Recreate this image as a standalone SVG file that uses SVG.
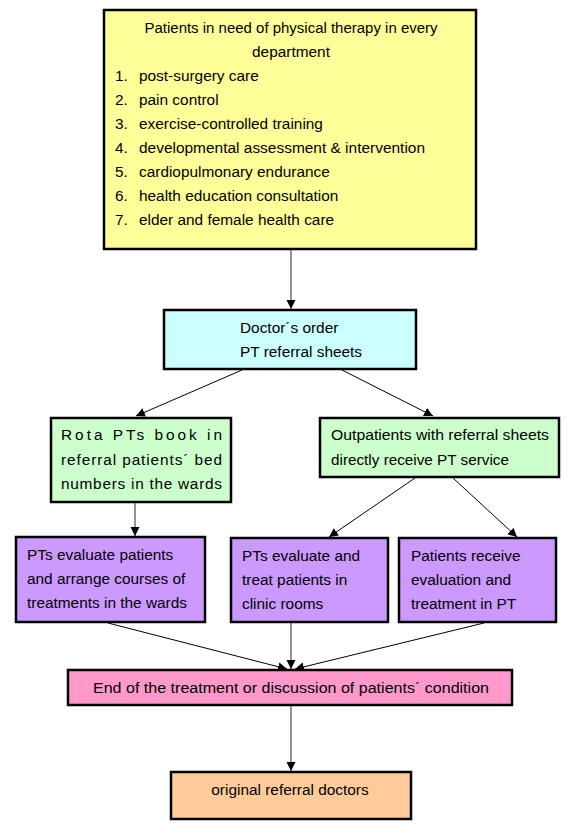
<svg xmlns="http://www.w3.org/2000/svg" width="573" height="834" viewBox="0 0 573 834">
<style>
.box{stroke:#000;stroke-width:2.5}
text{font-family:"Liberation Sans",Arial,sans-serif;font-size:15.4px;fill:#000}
.c{text-anchor:middle}
.ln{stroke:#000;stroke-width:1;fill:none;marker-end:url(#ah)}
.lg{stroke:#707070;stroke-width:1.5;fill:none;marker-end:url(#ah)}
</style>
<defs>
<marker id="ah" markerUnits="userSpaceOnUse" markerWidth="10" markerHeight="10" refX="9" refY="4.5" orient="auto">
<path d="M0,0 L9,4.5 L0,9 z" fill="#000"/>
</marker>
</defs>
<rect width="573" height="834" fill="#fff"/>
<g id="connectors">
<line class="lg" x1="291" y1="250" x2="291" y2="309"/>
<line class="ln" x1="242" y1="370" x2="136" y2="416"/>
<line class="ln" x1="342" y1="370" x2="433" y2="416"/>
<line class="lg" x1="135" y1="503" x2="135" y2="536"/>
<line class="ln" x1="415" y1="478" x2="329" y2="537"/>
<line class="ln" x1="453" y1="478" x2="517" y2="537"/>
<line class="ln" x1="108" y1="623" x2="287" y2="669"/>
<line class="lg" x1="291" y1="623" x2="291" y2="669"/>
<line class="ln" x1="484" y1="623" x2="295" y2="669"/>
<line class="lg" x1="291" y1="706" x2="291" y2="771"/>
</g>
<g id="n1">
<rect class="box" x="104" y="10" width="372" height="239" fill="#FFFF99"/>
<text class="c" x="291" y="33" textLength="293" lengthAdjust="spacingAndGlyphs">Patients in need of physical therapy in every</text>
<text class="c" x="291" y="57">department</text>
<text x="115" y="81">1.</text><text x="139" y="81">post-surgery care</text>
<text x="115" y="105">2.</text><text x="139" y="105">pain control</text>
<text x="115" y="129">3.</text><text x="139" y="129">exercise-controlled training</text>
<text x="115" y="153">4.</text><text x="139" y="153" textLength="286" lengthAdjust="spacingAndGlyphs">developmental assessment &amp; intervention</text>
<text x="115" y="177">5.</text><text x="139" y="177">cardiopulmonary endurance</text>
<text x="115" y="201">6.</text><text x="139" y="201">health education consultation</text>
<text x="115" y="225">7.</text><text x="139" y="225">elder and female health care</text>
</g>
<g id="n2">
<rect class="box" x="164" y="310" width="252" height="59" fill="#CCFFFF"/>
<text x="240" y="333">Doctor´s order</text>
<text x="240" y="357">PT referral sheets</text>
</g>
<g id="n3">
<rect class="box" x="51" y="418" width="180" height="84" fill="#CCFFCC"/>
<text x="61" y="440" textLength="161" lengthAdjust="spacing">Rota PTs book in</text>
<text x="61" y="465" textLength="161" lengthAdjust="spacing">referral patients´ bed</text>
<text x="61" y="489" textLength="161" lengthAdjust="spacing">numbers in the wards</text>
</g>
<g id="n4">
<rect class="box" x="320" y="418" width="239" height="59" fill="#CCFFCC"/>
<text x="331" y="440" textLength="218" lengthAdjust="spacingAndGlyphs">Outpatients with referral sheets</text>
<text x="331" y="465" textLength="178" lengthAdjust="spacingAndGlyphs">directly receive PT service</text>
</g>
<g id="n5">
<rect class="box" x="16" y="537" width="189" height="85" fill="#CC99FF"/>
<text x="27" y="560">PTs evaluate patients</text>
<text x="27" y="584">and arrange courses of</text>
<text x="27" y="608">treatments in the wards</text>
</g>
<g id="n6">
<rect class="box" x="231" y="538" width="157" height="84" fill="#CC99FF"/>
<text x="242" y="561">PTs evaluate and</text>
<text x="242" y="585">treat patients in</text>
<text x="242" y="609">clinic rooms</text>
</g>
<g id="n7">
<rect class="box" x="399" y="538" width="157" height="84" fill="#CC99FF"/>
<text x="411" y="561">Patients receive</text>
<text x="411" y="585">evaluation and</text>
<text x="411" y="609">treatment in PT</text>
</g>
<g id="n8">
<rect class="box" x="68" y="670" width="444" height="35" fill="#FF99CC"/>
<text class="c" x="291" y="693" textLength="396" lengthAdjust="spacingAndGlyphs">End of the treatment or discussion of patients´ condition</text>
</g>
<g id="n9">
<rect class="box" x="171" y="772" width="240" height="47" fill="#FFCC99"/>
<text class="c" x="290" y="795">original referral doctors</text>
</g>
</svg>
